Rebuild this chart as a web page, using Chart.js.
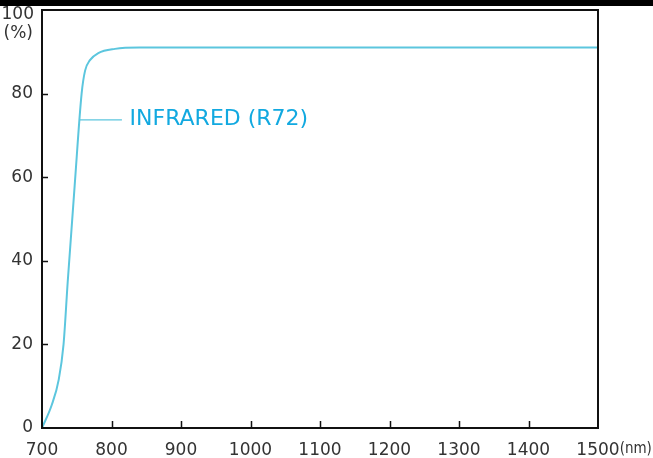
<!DOCTYPE html>
<html>
<head>
<meta charset="utf-8">
<script src="https://cdn.jsdelivr.net/npm/chart.js@4.4.0/dist/chart.umd.min.js"></script>
<style>
	html, body { margin: 0; padding: 0; background: #fff; }
	#box { width: 653px; height: 458px; }
</style>
</head>
<body>
<div id="box"><canvas id="firstChart"></canvas></div>
<script>
// wavelength (nm) and transmission (%)
let wavelength = [700, 714, 724, 731, 737, 747, 757, 762, 769, 781, 805, 840, 1500];
let transmission = [0, 5.5, 11.5, 20, 35, 58, 80, 85.5, 88, 89.7, 90.7, 91, 91];
let xTicks = [700, 800, 900, 1000, 1100, 1200, 1300, 1400, 1500];
let yTicks = [0, 20, 40, 60, 80, 100];
let seriesName = 'INFRARED (R72)';

let points = wavelength.map((w, i) => ({ x: w, y: transmission[i] }));

let frame = {
	id: 'frame',
	beforeDraw(chart) {
		let c = chart.ctx;
		c.save();
		c.fillStyle = '#000';
		c.fillRect(0, 0, chart.width, 6);
		c.restore();
	},
	afterDraw(chart) {
		let c = chart.ctx;
		let a = chart.chartArea;
		let xs = chart.scales.x;
		let ys = chart.scales.y;
		c.save();
		c.strokeStyle = '#111';
		c.lineWidth = 2;
		c.strokeRect(a.left, a.top, a.right - a.left, a.bottom - a.top);
		// inward ticks
		c.lineWidth = 1.5;
		c.beginPath();
		for (let v of xTicks.slice(1, -1)) {
			let px = Math.round(xs.getPixelForValue(v)) + 0.5;
			c.moveTo(px, a.bottom);
			c.lineTo(px, a.bottom - 7);
		}
		for (let v of yTicks.slice(1, -1)) {
			let py = Math.round(ys.getPixelForValue(v)) + 0.5;
			c.moveTo(a.left, py);
			c.lineTo(a.left + 6, py);
		}
		c.stroke();
		// top label and units
		c.fillStyle = '#333';
		c.font = '17px "DejaVu Sans"';
		c.textAlign = 'right';
		c.textBaseline = 'middle';
		let top = ys.getPixelForValue(100);
		c.fillText('100', a.left - 8, top + 5);
		c.fillText('(%)', a.left - 9, top + 24);
		let endX = xs.getPixelForValue(1500);
		let half = c.measureText('1500').width / 2;
		c.font = '15px "DejaVu Sans Condensed"';
		c.textAlign = 'left';
		c.textBaseline = 'top';
		c.fillText('(nm)', endX + half, a.bottom + 14);
		// series label
		let ly = ys.getPixelForValue(73.7);
		c.strokeStyle = '#5cc6de';
		c.lineWidth = 1.2;
		c.beginPath();
		c.moveTo(xs.getPixelForValue(754), ly);
		c.lineTo(xs.getPixelForValue(815), ly);
		c.stroke();
		c.fillStyle = '#12a9e0';
		c.font = '22px "DejaVu Sans"';
		c.textBaseline = 'middle';
		c.fillText(seriesName, xs.getPixelForValue(826), ly - 1);
		c.restore();
	}
};

new Chart(document.getElementById('firstChart'), {
	type: 'line',
	data: {
		datasets: [{
			label: seriesName,
			data: points,
			borderColor: '#5cc6de',
			borderWidth: 2,
			pointRadius: 0,
			cubicInterpolationMode: 'monotone',
			fill: false,
		}],
	},
	options: {
		responsive: true,
		maintainAspectRatio: false,
		animation: false,
		layout: { padding: { left: 0, right: 55, top: 10, bottom: 0 } },
		plugins: { legend: { display: false }, tooltip: { enabled: false } },
		scales: {
			x: {
				type: 'linear',
				min: 700,
				max: 1500,
				afterFit(s) { s.height = 30; s.paddingLeft = 0; s.paddingRight = 0; },
				afterBuildTicks(s) { s.ticks = xTicks.map(v => ({ value: v })); },
				grid: { display: false, drawTicks: false },
				border: { display: false },
				ticks: {
					color: '#333',
					font: { family: 'DejaVu Sans', size: 17 },
					padding: 12,
					maxRotation: 0,
					autoSkip: false,
					callback: v => String(v),
				},
			},
			y: {
				min: 0,
				max: 100,
				afterFit(s) { s.width = 42; s.paddingTop = 0; s.paddingBottom = 0; },
				afterBuildTicks(s) { s.ticks = yTicks.map(v => ({ value: v })); },
				grid: { display: false, drawTicks: false },
				border: { display: false },
				ticks: {
					color: '#333',
					font: { family: 'DejaVu Sans', size: 17 },
					padding: 9,
					callback: v => v == 100 ? '' : String(v),
				},
			},
		},
	},
	plugins: [frame],
});
</script>
</body>
</html>
